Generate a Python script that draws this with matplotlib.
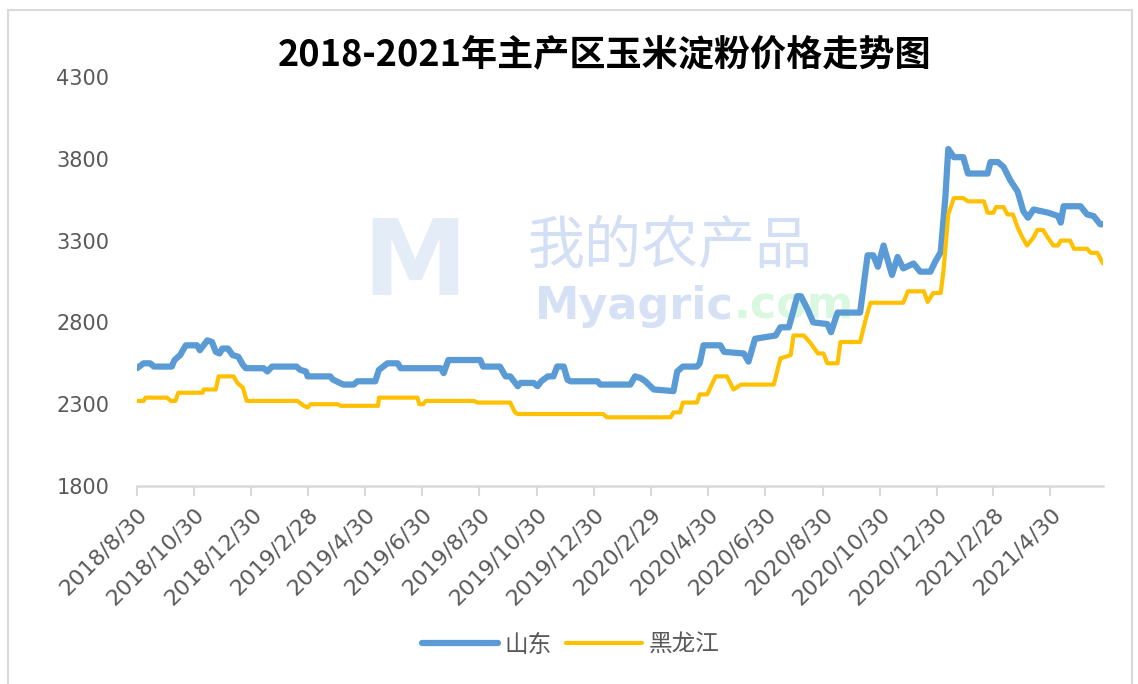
import pandas as pd
import numpy as np
import matplotlib
matplotlib.use('Agg')
import matplotlib.pyplot as plt
import matplotlib.dates as mdates
from matplotlib.patches import Rectangle

plt.rcParams['font.family'] = ['Noto Sans CJK SC', 'DejaVu Sans']

# 山东 price breakpoints
sd_dates = [
    '2018-08-30', '2018-09-06', '2018-09-13', '2018-09-17', '2018-10-06', '2018-10-09', '2018-10-15',
    '2018-10-21', '2018-11-02', '2018-11-05', '2018-11-09', '2018-11-13', '2018-11-18', '2018-11-22',
    '2018-11-26', '2018-11-29', '2018-12-05', '2018-12-10', '2018-12-16', '2018-12-21', '2018-12-24',
    '2019-01-12', '2019-01-16', '2019-01-21', '2019-02-16', '2019-02-20', '2019-02-26', '2019-02-28',
    '2019-03-24', '2019-03-27', '2019-04-07', '2019-04-18', '2019-04-22', '2019-05-11', '2019-05-15',
    '2019-05-24', '2019-06-04', '2019-06-07', '2019-07-20', '2019-07-23', '2019-07-28', '2019-08-31',
    '2019-09-03', '2019-09-21', '2019-09-27', '2019-10-02', '2019-10-10', '2019-10-13', '2019-10-27',
    '2019-10-31', '2019-11-04', '2019-11-11', '2019-11-17', '2019-11-21', '2019-11-28', '2019-12-02',
    '2019-12-05', '2020-01-03', '2020-01-06', '2020-02-07', '2020-02-12', '2020-02-18', '2020-02-23',
    '2020-03-03', '2020-03-24', '2020-03-28', '2020-04-03', '2020-04-18', '2020-04-21', '2020-04-25',
    '2020-05-13', '2020-05-17', '2020-06-07', '2020-06-12', '2020-06-19', '2020-07-11', '2020-07-16',
    '2020-07-25', '2020-08-03', '2020-08-07', '2020-08-14', '2020-08-20', '2020-09-04', '2020-09-08',
    '2020-09-15', '2020-10-09', '2020-10-17', '2020-10-23', '2020-10-28', '2020-11-03', '2020-11-12',
    '2020-11-18', '2020-11-24', '2020-12-05', '2020-12-12', '2020-12-23', '2020-12-28', '2021-01-03',
    '2021-01-08', '2021-01-11', '2021-01-17', '2021-01-27', '2021-02-01', '2021-02-22', '2021-02-25',
    '2021-03-05', '2021-03-11', '2021-03-18', '2021-03-26', '2021-04-01', '2021-04-06', '2021-04-12',
    '2021-04-28', '2021-05-08', '2021-05-11', '2021-05-14', '2021-06-01', '2021-06-08', '2021-06-15',
    '2021-06-22', '2021-06-25']
sd_price = [
    2520, 2550, 2550, 2530, 2530, 2570, 2600,
    2660, 2660, 2630, 2660, 2690, 2680, 2620,
    2610, 2640, 2640, 2600, 2590, 2540, 2520,
    2520, 2500, 2530, 2530, 2510, 2500, 2470,
    2470, 2450, 2420, 2420, 2440, 2440, 2510,
    2550, 2550, 2520, 2520, 2490, 2570, 2570,
    2530, 2530, 2470, 2470, 2410, 2430, 2430,
    2410, 2440, 2470, 2470, 2530, 2530, 2450,
    2440, 2440, 2420, 2420, 2470, 2460, 2440,
    2390, 2380, 2500, 2530, 2530, 2550, 2660,
    2660, 2620, 2610, 2560, 2700, 2720, 2770,
    2770, 2960, 2960, 2880, 2800, 2790, 2740,
    2860, 2860, 3210, 3210, 3140, 3270, 3090,
    3200, 3130, 3160, 3110, 3110, 3170, 3230,
    3570, 3860, 3810, 3810, 3710, 3710, 3780,
    3780, 3750, 3670, 3600, 3480, 3440, 3490,
    3470, 3450, 3410, 3510, 3510, 3460, 3450,
    3400, 3400]

# 黑龙江 price breakpoints
hlj_dates = [
    '2018-08-30', '2018-09-06', '2018-09-08', '2018-10-01', '2018-10-05', '2018-10-10', '2018-10-13',
    '2018-11-08', '2018-11-09', '2018-11-22', '2018-11-25', '2018-12-11', '2018-12-15', '2018-12-21',
    '2018-12-25', '2019-02-17', '2019-02-24', '2019-02-28', '2019-03-03', '2019-04-01', '2019-04-04',
    '2019-05-14', '2019-05-15', '2019-06-25', '2019-06-27', '2019-07-01', '2019-07-04', '2019-08-24',
    '2019-08-28', '2019-10-02', '2019-10-07', '2019-10-10', '2020-01-09', '2020-01-13', '2020-03-21',
    '2020-03-24', '2020-03-31', '2020-04-03', '2020-04-18', '2020-04-21', '2020-04-29', '2020-05-03',
    '2020-05-08', '2020-05-20', '2020-05-27', '2020-06-04', '2020-07-09', '2020-07-16', '2020-07-27',
    '2020-07-30', '2020-08-10', '2020-08-17', '2020-08-25', '2020-08-31', '2020-09-04', '2020-09-15',
    '2020-09-18', '2020-10-09', '2020-10-15', '2020-10-20', '2020-11-24', '2020-11-29', '2020-12-16',
    '2020-12-20', '2020-12-26', '2021-01-03', '2021-01-06', '2021-01-11', '2021-01-17', '2021-01-27',
    '2021-02-01', '2021-02-18', '2021-02-22', '2021-02-28', '2021-03-03', '2021-03-11', '2021-03-15',
    '2021-03-21', '2021-03-26', '2021-03-31', '2021-04-05', '2021-04-12', '2021-04-16', '2021-04-22',
    '2021-04-27', '2021-05-03', '2021-05-08', '2021-05-11', '2021-05-21', '2021-05-25', '2021-06-08',
    '2021-06-12', '2021-06-19', '2021-06-25']
hlj_price = [
    2320, 2320, 2340, 2340, 2320, 2320, 2370,
    2370, 2390, 2390, 2470, 2470, 2430, 2400,
    2320, 2320, 2290, 2280, 2300, 2300, 2290,
    2290, 2340, 2340, 2300, 2300, 2320, 2320,
    2310, 2310, 2250, 2240, 2240, 2220, 2220,
    2250, 2250, 2310, 2310, 2360, 2360, 2410,
    2470, 2470, 2390, 2420, 2420, 2580, 2600,
    2720, 2720, 2675, 2610, 2610, 2550, 2550,
    2680, 2680, 2820, 2920, 2920, 2990, 2990,
    2925, 2980, 2980, 3120, 3460, 3560, 3560,
    3540, 3540, 3470, 3470, 3505, 3505, 3460,
    3460, 3380, 3320, 3270, 3320, 3365, 3365,
    3320, 3270, 3270, 3300, 3300, 3250, 3250,
    3225, 3225, 3160]

tick_labels = ['2018/8/30', '2018/10/30', '2018/12/30', '2019/2/28', '2019/4/30', '2019/6/30',
               '2019/8/30', '2019/10/30', '2019/12/30', '2020/2/29', '2020/4/30', '2020/6/30',
               '2020/8/30', '2020/10/30', '2020/12/30', '2021/2/28', '2021/4/30']
y_ticks = [1800, 2300, 2800, 3300, 3800, 4300]

title = '2018-2021年主产区玉米淀粉价格走势图'
series_names = ['山东', '黑龙江']

fig = plt.figure(figsize=(11.38, 6.84), dpi=100)
ax = fig.add_axes([137/1138, 1-486/684, (1103-137)/1138, (486-77)/684])

# light frame around the chart area
fig.patches.append(Rectangle((8/1138, -0.02), (1132-8)/1138, 1.02-10/684, transform=fig.transFigure,
                             fill=False, edgecolor='#D9D9D9', linewidth=1.5))

# watermark
ax.text(362/1138, 1-266/684, 'M', transform=fig.transFigure, fontsize=76, fontweight='bold',
        color='#E4ECF8', family='DejaVu Sans', va='center', ha='left', zorder=0)
ax.text(528/1138, 1-247/684, '我的农产品', transform=fig.transFigure, fontsize=41,
        color='#D3DFF4', va='center', ha='left', zorder=0)
ax.text(535/1138, 1-306/684, 'Myagric', transform=fig.transFigure, fontsize=32, fontweight='bold',
        color='#D6E1F5', family='DejaVu Sans', va='center', ha='left', zorder=0)
ax.text(733/1138, 1-306/684, '.com', transform=fig.transFigure, fontsize=32, fontweight='bold',
        color='#DAF7DF', family='DejaVu Sans', va='center', ha='left', zorder=0)

ax.plot(pd.to_datetime(sd_dates), sd_price, color='#5B9BD5', linewidth=4.5, label=series_names[0],
        solid_joinstyle='round', solid_capstyle='round', zorder=3)
ax.plot(pd.to_datetime(hlj_dates), hlj_price, color='#FFC000', linewidth=3, label=series_names[1],
        solid_joinstyle='round', solid_capstyle='round', zorder=3)

ax.set_xlim(pd.Timestamp('2018-08-30'), pd.Timestamp('2021-06-25'))
ax.set_ylim(1800, 4300)
ax.set_yticks(y_ticks)
ax.set_yticklabels([str(v) for v in y_ticks], family='DejaVu Sans', fontsize=15, color='#595959')

tick_dates = pd.to_datetime([t.replace('/', '-') for t in tick_labels])
ax.set_xticks(tick_dates)
ax.set_xticklabels(tick_labels, rotation=45, ha='right', va='top', rotation_mode='anchor',
                   family='DejaVu Sans', fontsize=16, color='#595959')

for s in ['left', 'right', 'top']:
    ax.spines[s].set_visible(False)
ax.spines['bottom'].set_color('#D9D9D9')
ax.spines['bottom'].set_linewidth(1.8)
ax.tick_params(axis='x', direction='out', length=7, width=1.5, color='#D9D9D9', pad=6)
ax.tick_params(axis='y', length=0, pad=20)
ax.patch.set_alpha(0)

fig.text(605/1138, 1-55/684, title, fontsize=26, fontweight='bold', ha='center', va='center',
         color='black')

fig.legend(loc='center', bbox_to_anchor=(571/1138, 1-645/684), ncol=2, frameon=False,
           fontsize=17, handlelength=3.2, columnspacing=0.6, handletextpad=0.3,
           labelcolor='#595959')

fig.savefig('out.png', dpi=100)
